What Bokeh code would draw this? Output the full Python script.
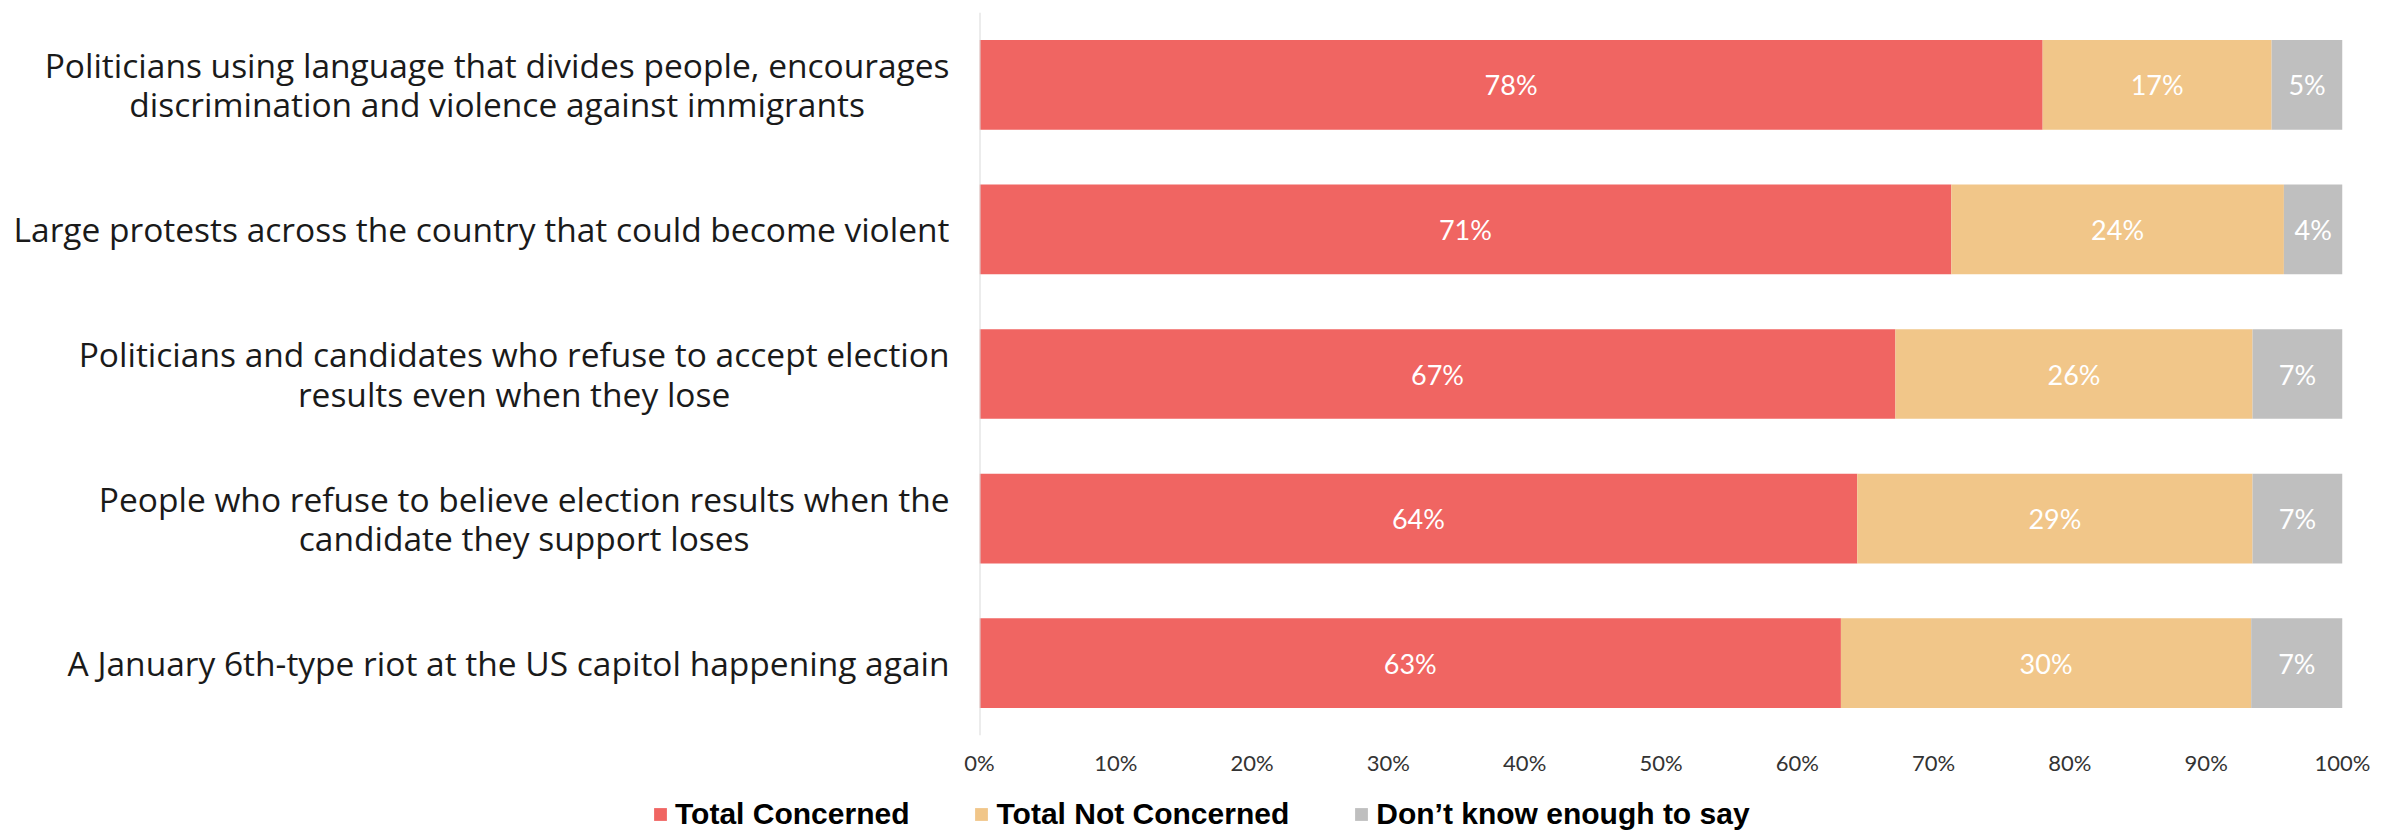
from bokeh.plotting import figure
from bokeh.models import (FactorRange, Range1d, FixedTicker, PrintfTickFormatter, ColumnDataSource,
                          LabelSet, Legend, LegendItem, Span)
from bokeh.layouts import column, row
from bokeh.core.properties import value
from bokeh.embed import file_html
from bokeh.resources import INLINE

categories = [
    "Politicians using language that divides people, encourages\ndiscrimination and violence against immigrants",
    "Large protests across the country that could become violent",
    "Politicians and candidates who refuse to accept election\nresults even when they lose",
    "People who refuse to believe election results when the\ncandidate they support loses",
    "A January 6th-type riot at the US capitol happening again",
]
concerned = [78.0, 71.3, 67.2, 64.4, 63.2]
not_concerned = [16.8, 24.4, 26.2, 29.0, 30.1]
dont_know = [5.2, 4.3, 6.6, 6.6, 6.7]
series_names = ["Total Concerned", "Total Not Concerned", "Don\u2019t know enough to say"]
colors = ["#F06562", "#F1C689", "#BFBFBF"]
x_ticks = [0, 10, 20, 30, 40, 50, 60, 70, 80, 90, 100]

CAT_FONT = "Open Sans"
NUM_FONT = "Lato"
LEG_FONT = "Liberation Sans"

source = ColumnDataSource(dict(cat=categories, c=concerned, n=not_concerned, d=dont_know))
y_range = FactorRange(factors=list(reversed(categories)))

# ---- category label panel (left) ----
lf = figure(width=949, height=790, output_backend="svg", toolbar_location=None,
            y_range=y_range, x_range=Range1d(0, 1), frame_align=False,
            min_border_left=0, min_border_right=0, min_border_top=12, min_border_bottom=55,
            x_axis_type=None)
lf.yaxis.visible = False
lf.outline_line_color = None
lf.grid.visible = False
lf.text(x=1, y="cat", text="cat", source=source,
        anchor="center_right", text_align="center", text_baseline="middle",
        text_font=value(CAT_FONT), text_font_size="33.5px", text_line_height=0.85,
        text_color="#1a1a1a")

# ---- bars ----
p = figure(width=1450, height=790, output_backend="svg", toolbar_location=None,
           y_range=y_range, x_range=Range1d(0, 100), frame_align=False,
           min_border_left=30, min_border_right=57, min_border_top=12, min_border_bottom=55)
p.outline_line_color = None
p.xgrid.grid_line_color = None
p.ygrid.grid_line_color = None
p.yaxis.visible = False

p.hbar_stack(["c", "n", "d"], y="cat", height=0.62, color=colors, line_color=None, source=source)
p.add_layout(Span(location=0, dimension="height", line_color="#D9D9D9", line_width=2))

# segment labels
lab_x, lab_y, lab_t = [], [], []
for i, cat in enumerate(categories):
    start = 0.0
    for vals in (concerned, not_concerned, dont_know):
        v = vals[i]
        lab_x.append(start + v / 2)
        lab_y.append(cat)
        lab_t.append(f"{int(round(v))}%")
        start += v
lsrc = ColumnDataSource(dict(x=lab_x, y=lab_y, t=lab_t))
labels = LabelSet(x="x", y="y", text="t", source=lsrc, text_color="white",
                  text_font=value(NUM_FONT), text_font_size="27px", text_align="center",
                  text_baseline="middle")
p.add_layout(labels)

p.xaxis.axis_line_color = None
p.xaxis.major_tick_line_color = None
p.xaxis.minor_tick_line_color = None
p.xaxis.ticker = FixedTicker(ticks=x_ticks)
p.xaxis.formatter = PrintfTickFormatter(format="%d%%")
p.xaxis.major_label_standoff = 7
p.xaxis.major_label_text_font = NUM_FONT
p.xaxis.major_label_text_font_size = "22px"
p.xaxis.major_label_text_color = "#333333"

# ---- legend strip below the chart ----
lp = figure(width=2399, height=41, output_backend="svg", toolbar_location=None,
            x_range=Range1d(0, 1), y_range=Range1d(0, 1), frame_align=False,
            min_border_left=0, min_border_right=0, min_border_top=0, min_border_bottom=0,
            x_axis_type=None, y_axis_type=None)
lp.outline_line_color = None
lp.grid.visible = False
items = []
for name, col in zip(series_names, colors):
    r = lp.rect(x=[-10], y=[-10], width=[0.1], height=[0.1], fill_color=col, line_color=None)
    items.append(LegendItem(label=name, renderers=[r]))
leg = Legend(items=items, orientation="horizontal", location=(652, 0))
leg.padding = 0
leg.margin = 0
leg.spacing = 64
leg.glyph_width = 16
leg.glyph_height = 16
leg.label_height = 22
leg.label_standoff = 7
leg.label_text_font = LEG_FONT
leg.label_text_font_style = "bold"
leg.label_text_font_size = "30px"
leg.label_text_color = "#000000"
leg.border_line_color = None
leg.background_fill_alpha = 0
lp.add_layout(leg, "center")

layout = column(row(lf, p, spacing=0), lp, spacing=0)
open("out.html", "w").write(file_html(layout, INLINE))
